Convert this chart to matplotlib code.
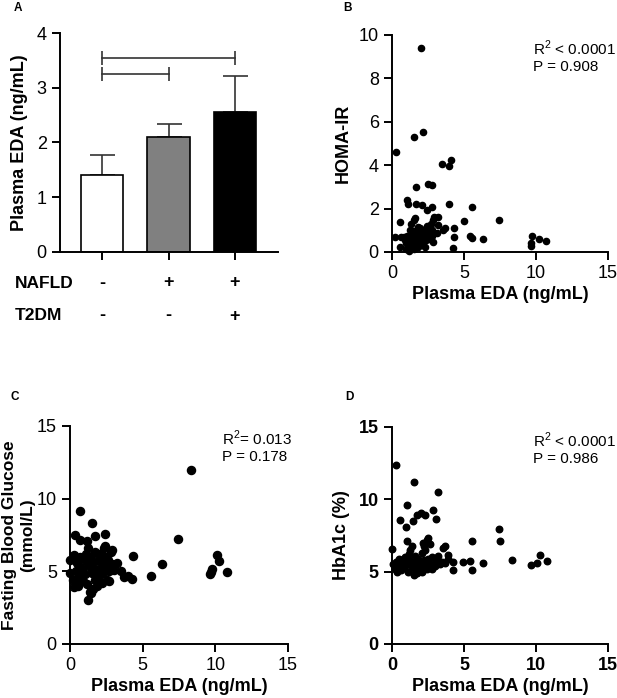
import matplotlib
matplotlib.use("Agg")
import matplotlib.pyplot as plt
import numpy as np

plt.rcParams['font.family'] = ['Liberation Sans', 'DejaVu Sans']
plt.rcParams['mathtext.fontset'] = 'custom'
plt.rcParams['mathtext.rm'] = 'Liberation Sans'

# panel A - bar chart
groups = ["NAFLD- T2DM-", "NAFLD+ T2DM-", "NAFLD+ T2DM+"]
bar_means = [1.40, 2.10, 2.55]
bar_err = [0.38, 0.23, 0.67]
bar_colors = ["white", "#808080", "black"]
nafld_signs = ["-", "+", "+"]
t2dm_signs = ["-", "-", "+"]

# panel B - HOMA-IR vs plasma EDA
b_x = [2.0, 0.28, 1.53, 2.18, 1.67, 2.52, 2.78, 3.45, 3.98, 4.12, 1.06, 1.11, 1.67, 2.1, 2.4,
       2.78, 3.98, 5.58, 5.0, 7.4, 0.55, 0.21, 0.55, 1.25, 1.55, 1.83, 2.3, 2.64, 2.87, 3.2,
       3.2, 3.56, 3.68, 4.3, 4.33, 4.26, 5.42, 5.53, 6.3, 9.7, 9.63, 9.63, 10.23, 10.72, 3.1,
       2.87, 0.8, 0.9, 1.0, 1.05, 1.2, 1.25, 1.3, 1.4, 1.45, 1.5, 1.55, 1.6, 1.65, 1.7, 1.75,
       1.8, 1.85, 1.9, 1.95, 2.0, 2.05, 2.1, 2.15, 2.2, 2.25, 2.3, 2.35, 2.4, 2.5, 2.55, 2.6,
       2.7, 2.8, 1.35, 1.6, 1.2, 1.0, 0.6, 2.95, 2.45, 2.75]
b_y = [9.42, 4.6, 5.3, 5.55, 3.0, 3.15, 3.07, 4.05, 3.98, 4.24, 2.4, 2.2, 2.2, 2.17, 1.94,
       2.06, 2.23, 2.09, 1.43, 1.47, 1.4, 0.7, 0.25, 1.0, 1.47, 1.17, 1.0, 1.17, 1.47, 1.63,
       1.23, 1.0, 1.1, 1.1, 0.7, 0.2, 0.75, 0.63, 0.58, 0.74, 0.4, 0.28, 0.6, 0.52, 0.86,
       0.48, 0.7, 0.55, 0.4, 0.75, 0.2, 0.6, 0.85, 0.3, 0.5, 0.95, 0.15, 0.7, 0.4, 0.6, 0.9,
       0.25, 0.5, 0.75, 1.1, 0.35, 0.6, 0.85, 0.45, 1.0, 0.7, 0.25, 0.55, 0.8, 1.05, 0.6, 0.9,
       1.3, 0.75, 1.3, 1.55, 0.05, 0.15, 0.7, 1.6, 1.2, 1.0]

# panel C - fasting blood glucose vs plasma EDA
c_x = [8.3, 0.69, 1.51, 7.45, 0.34, 0.69, 1.19, 1.72, 2.41, 2.41, 2.9, 3.26, 4.31, 6.35, 5.55,
       4.24, 4.0, 3.7, 3.49, 1.24, 10.09, 10.28, 9.75, 9.68, 9.63, 10.78, 0.0, 0.0, 0.2, 0.28,
       0.4, 0.5, 0.6, 0.7, 0.8, 0.9, 1.0, 1.05, 1.1, 1.2, 1.3, 1.35, 1.4, 1.5, 1.55, 1.6, 1.7,
       1.75, 1.8, 1.85, 1.9, 2.0, 2.05, 2.1, 2.2, 2.25, 2.3, 2.4, 2.5, 2.55, 2.6, 2.7, 2.8,
       2.9, 3.0, 0.3, 0.55, 1.45, 2.65, 0.9, 1.25, 2.35]
c_y = [12.0, 9.15, 8.35, 7.2, 7.48, 7.16, 7.1, 7.4, 7.6, 6.77, 6.47, 5.6, 6.08, 5.5, 4.7,
       4.5, 4.7, 4.63, 5.03, 3.02, 6.13, 5.72, 5.17, 4.94, 4.8, 4.92, 5.8, 4.9, 4.4, 3.95,
       5.0, 5.6, 4.6, 6.0, 5.2, 4.3, 5.8, 4.8, 6.2, 4.1, 5.4, 3.6, 6.0, 4.9, 3.8, 5.6, 4.4,
       6.3, 5.1, 4.0, 5.8, 4.7, 6.2, 5.3, 4.2, 5.7, 4.9, 6.0, 5.2, 4.4, 5.8, 5.0, 6.3,
       5.5, 5.1, 6.1, 4.0, 3.5, 4.3, 5.9, 6.6, 6.6]

# panel D - HbA1c vs plasma EDA
d_x = [0.28, 1.53, 3.18, 1.07, 0.56, 0.97, 1.48, 1.72, 2.0, 2.3, 2.83, 3.06, 7.4, 7.51, 5.54,
       1.07, 1.37, 2.53, 2.25, 3.57, 3.68, 3.87, 0.0, 4.26, 4.22, 4.96, 5.42, 5.54, 6.3, 8.32,
       9.65, 10.06, 10.25, 10.76, 0.37, 0.1, 0.2, 0.3, 0.4, 0.5, 0.6, 0.7, 0.8, 0.9, 1.0, 1.1,
       1.15, 1.2, 1.3, 1.4, 1.5, 1.55, 1.6, 1.7, 1.75, 1.8, 1.9, 2.0, 2.05, 2.1, 2.2, 2.25,
       2.3, 2.4, 2.5, 2.6, 2.65, 2.7, 2.8, 2.9, 3.0, 3.1, 3.2, 3.3, 3.5, 3.7, 3.9, 2.15, 2.45,
       1.25, 0.35, 0.65, 1.85, 2.35, 2.75]
d_y = [12.4, 11.17, 10.53, 9.63, 8.55, 8.06, 8.48, 8.94, 9.05, 8.94, 9.24, 8.64, 7.95, 7.1, 7.1,
       7.1, 6.75, 7.33, 6.75, 6.64, 6.75, 6.13, 6.59, 5.65, 5.09, 5.65, 5.71, 5.09, 5.6, 5.81,
       5.46, 5.6, 6.13, 5.71, 4.98, 5.5, 5.2, 5.7, 5.4, 5.9, 5.1, 5.6, 5.3, 6.0, 5.5, 5.0,
       5.8, 6.2, 5.4, 5.7, 4.8, 5.2, 6.1, 5.5, 4.9, 5.9, 5.3, 5.6, 6.3, 5.0, 5.8, 5.4,
       6.5, 5.2, 5.9, 5.5, 6.9, 5.3, 6.0, 5.6, 5.4, 5.8, 6.1, 5.5, 5.7, 5.6, 5.9, 7.0, 7.2,
       6.5, 5.6, 5.8, 5.1, 5.7, 5.2]

fig = plt.figure(figsize=(6.17, 6.98), dpi=100)

axA = fig.add_axes([0.0972, 0.639, 0.3534, 0.3137])
axB = fig.add_axes([0.6353, 0.639, 0.3501, 0.3109])
axC = fig.add_axes([0.1135, 0.0774, 0.3533, 0.3123])
axD = fig.add_axes([0.6353, 0.0774, 0.3501, 0.3109])


def style(ax):
    ax.spines['top'].set_visible(False)
    ax.spines['right'].set_visible(False)
    for s in ['left', 'bottom']:
        ax.spines[s].set_linewidth(1.4)
    ax.tick_params(width=1.4, length=6, labelsize=13)


# --- A ---
pos = np.arange(len(groups))
axA.bar(pos, bar_means, width=0.636, color=bar_colors, edgecolor="black", linewidth=1.2, zorder=2)
axA.errorbar(pos, bar_means, yerr=[np.zeros(3), bar_err], fmt='none', ecolor="#333333",
             elinewidth=1.2, capsize=9, capthick=1.2, zorder=1)
# comparison brackets
for x0, x1, yb in [(0, 2, 3.55), (0, 1, 3.25)]:
    axA.plot([x0, x1], [yb, yb], color="#333333", lw=1.2)
    axA.plot([x0, x1], [yb, yb], ls='none', marker='|', ms=10, mew=1.2, color="#333333")
style(axA)
axA.set_xlim(-0.636, 2.65)
axA.set_ylim(0, 4)
axA.set_yticks([0, 1, 2, 3, 4])
axA.set_xticks(pos)
axA.set_xticklabels([])
axA.set_ylabel("Plasma EDA (ng/mL)", fontsize=13, fontweight='bold', labelpad=6)
trA = matplotlib.transforms.blended_transform_factory(axA.transData, fig.transFigure)
fig.text(15 / 617, 1 - 283 / 698, "NAFLD", fontsize=12.5, fontweight='bold', va='center')
fig.text(15 / 617, 1 - 316 / 698, "T2DM", fontsize=12.5, fontweight='bold', va='center')
for i in pos:
    axA.text(i, 1 - 283 / 698, nafld_signs[i], transform=trA, ha='center', va='center',
             fontsize=13, fontweight='bold', clip_on=False)
    axA.text(i, 1 - 316 / 698, t2dm_signs[i], transform=trA, ha='center', va='center',
             fontsize=13, fontweight='bold', clip_on=False)

# --- B ---
axB.scatter(b_x, b_y, s=20, color="black", zorder=3, clip_on=False)
style(axB)
axB.set_xlim(0, 15)
axB.set_ylim(0, 10)
axB.set_xticks([0, 5, 10, 15])
axB.set_yticks([0, 2, 4, 6, 8, 10])
axB.set_xlabel("Plasma EDA (ng/mL)", fontsize=13, fontweight='bold', labelpad=3)
axB.set_ylabel("HOMA-IR", fontsize=13, fontweight='bold', labelpad=5)
axB.text(0.653, 0.94, r"R$^2$ < 0.0001", transform=axB.transAxes, fontsize=11, va='center')
axB.text(0.653, 0.853, "P = 0.908", transform=axB.transAxes, fontsize=11, va='center')

# --- C ---
axC.scatter(c_x, c_y, s=34, color="black", zorder=3, clip_on=False)
style(axC)
axC.set_xlim(0, 15)
axC.set_ylim(0, 15)
axC.set_xticks([0, 5, 10, 15])
axC.set_yticks([0, 5, 10, 15])
axC.set_xlabel("Plasma EDA (ng/mL)", fontsize=13, fontweight='bold', labelpad=3)
axC.set_ylabel("Fasting Blood Glucose\n(mmol/L)", fontsize=12.5, fontweight='bold',
               labelpad=1, linespacing=1.3)
axC.text(0.697, 0.945, r"R$^2$= 0.013", transform=axC.transAxes, fontsize=11, va='center')
axC.text(0.697, 0.858, "P = 0.178", transform=axC.transAxes, fontsize=11, va='center')

# --- D ---
axD.scatter(d_x, d_y, s=22, color="black", zorder=3, clip_on=False)
style(axD)
axD.set_xlim(0, 15)
axD.set_ylim(0, 15)
axD.set_xticks([0, 5, 10, 15])
axD.set_yticks([0, 5, 10, 15])
for lab in axD.get_xticklabels() + axD.get_yticklabels():
    lab.set_fontweight('bold')
axD.set_xlabel("Plasma EDA (ng/mL)", fontsize=13, fontweight='bold', labelpad=3)
axD.set_ylabel("HbA1c (%)", fontsize=13, fontweight='bold', labelpad=6)
axD.text(0.653, 0.94, r"R$^2$ < 0.0001", transform=axD.transAxes, fontsize=11, va='center')
axD.text(0.653, 0.852, "P = 0.986", transform=axD.transAxes, fontsize=11, va='center')

# panel letters
for lx, ly, letter in [(18, 8, "A"), (347, 8, "B"), (15, 397, "C"), (349, 397, "D")]:
    fig.text(lx / 617, 1 - ly / 698, letter, fontsize=8.5, fontweight='bold', ha='center', va='center')

fig.savefig("out.png", dpi=100)
